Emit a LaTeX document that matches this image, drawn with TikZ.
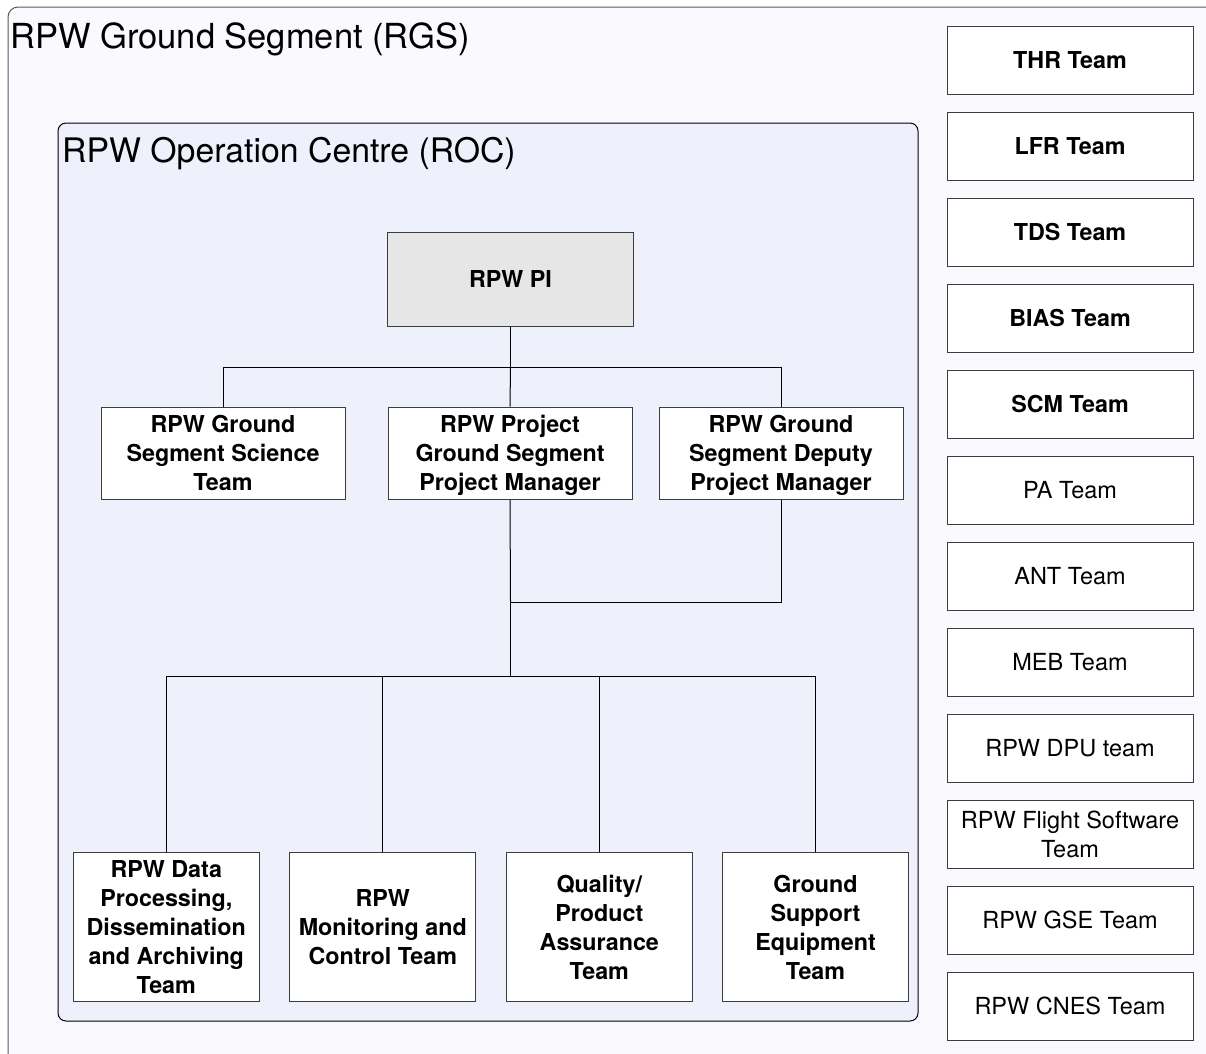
\documentclass[tikz,border=0pt]{standalone}
\usepackage{fontspec}
\setmainfont{TeX Gyre Heros}
\definecolor{outerfill}{RGB}{249,249,254}
\definecolor{rocfill}{RGB}{238,240,252}
\definecolor{pifill}{RGB}{230,230,230}
\definecolor{boxline}{RGB}{60,60,60}
\definecolor{frameline}{RGB}{90,90,90}
\begin{document}
\begin{tikzpicture}[x=1pt,y=-1pt,
  box/.style={draw=boxline,line width=1pt,fill=white,align=center,inner sep=0pt,text depth=0pt,
    font=\fontsize{23.3}{29}\selectfont\bfseries},
  regbox/.style={box,font=\fontsize{23.5}{29}\selectfont},
  conn/.style={draw=black,line width=1pt},
  title/.style={anchor=base west,inner sep=0pt,font=\fontsize{34.5}{40}\selectfont}
]
\useasboundingbox (0,0) rectangle (1206,1053);
\clip (0,0) rectangle (1206,1053);
\fill[white] (0,0) rectangle (1206,1053);
% outer RGS frame
\draw[draw=frameline,line width=1pt,fill=outerfill,rounded corners=10pt] (8,7) rectangle (1240,1090);
\node[title] (rgs) at (10,48) {RPW Ground Segment (RGS)};
% ROC frame
\draw[draw=black,line width=1pt,fill=rocfill,rounded corners=8pt] (58,123) rectangle (918,1021);
\node[title,font=\fontsize{33.8}{40}\selectfont] (roc) at (62,162) {RPW Operation Centre (ROC)};
% PI
\node[box,fill=pifill,minimum width=246pt,minimum height=94pt] (pi) at (510.5,279) {RPW PI};
% middle row
\node[box,minimum width=244pt,minimum height=92pt] (gsst) at (223,453) {RPW Ground\\Segment Science\\Team};
\node[box,minimum width=244pt,minimum height=92pt] (gspm) at (510,453) {RPW Project\\Ground Segment\\Project Manager};
\node[box,minimum width=244pt,minimum height=92pt] (gsdpm) at (781,453) {RPW Ground\\Segment Deputy\\Project Manager};
% bottom row
\node[box,minimum width=186pt,minimum height=149pt] (b1) at (166.3,927) {RPW Data\\Processing,\\Dissemination\\and Archiving\\Team};
\node[box,minimum width=186pt,minimum height=149pt] (b2) at (382.8,927) {RPW\\Monitoring and\\Control Team};
\node[box,minimum width=186pt,minimum height=149pt] (b3) at (599.3,927) {Quality/\\Product\\Assurance\\Team};
\node[box,minimum width=186pt,minimum height=149pt] (b4) at (815.5,927) {Ground\\Support\\Equipment\\Team};
% connectors
\coordinate (bus1) at (510.5,367);
\coordinate (j2) at (510.5,602);
\coordinate (j3) at (510.5,676);
\draw[conn] (pi.south) -- (bus1);
\draw[conn] (gsst.north) |- (bus1) -| (gsdpm.north);
\draw[conn] (bus1) -- (gspm.north);
\draw[conn] (gspm.south) -- (j2);
\draw[conn] (gsdpm.south) |- (j2);
\draw[conn] (j2) -- (j3);
\draw[conn] (b1.north) |- (j3) -| (b4.north);
\draw[conn] (b2.north) -- (b2.north |- j3);
\draw[conn] (b3.north) -- (b3.north |- j3);
% right column
\node[box,minimum width=246pt,minimum height=68pt] (thr) at (1070,60) {THR Team};
\node[box,minimum width=246pt,minimum height=68pt] (lfr) at (1070,146) {LFR Team};
\node[box,minimum width=246pt,minimum height=68pt] (tds) at (1070,232) {TDS Team};
\node[box,minimum width=246pt,minimum height=68pt] (bias) at (1070,318) {BIAS Team};
\node[box,minimum width=246pt,minimum height=68pt] (scm) at (1070,404) {SCM Team};
\node[regbox,minimum width=246pt,minimum height=68pt] (pa) at (1070,490) {PA Team};
\node[regbox,minimum width=246pt,minimum height=68pt] (ant) at (1070,576) {ANT Team};
\node[regbox,minimum width=246pt,minimum height=68pt] (meb) at (1070,662) {MEB Team};
\node[regbox,minimum width=246pt,minimum height=68pt] (dpu) at (1070,748) {RPW DPU team};
\node[regbox,minimum width=246pt,minimum height=68pt] (fsw) at (1070,834) {RPW Flight Software\\Team};
\node[regbox,minimum width=246pt,minimum height=68pt] (gse) at (1070,920) {RPW GSE Team};
\node[regbox,minimum width=246pt,minimum height=68pt] (cnes) at (1070,1006) {RPW CNES Team};
\end{tikzpicture}
\end{document}
